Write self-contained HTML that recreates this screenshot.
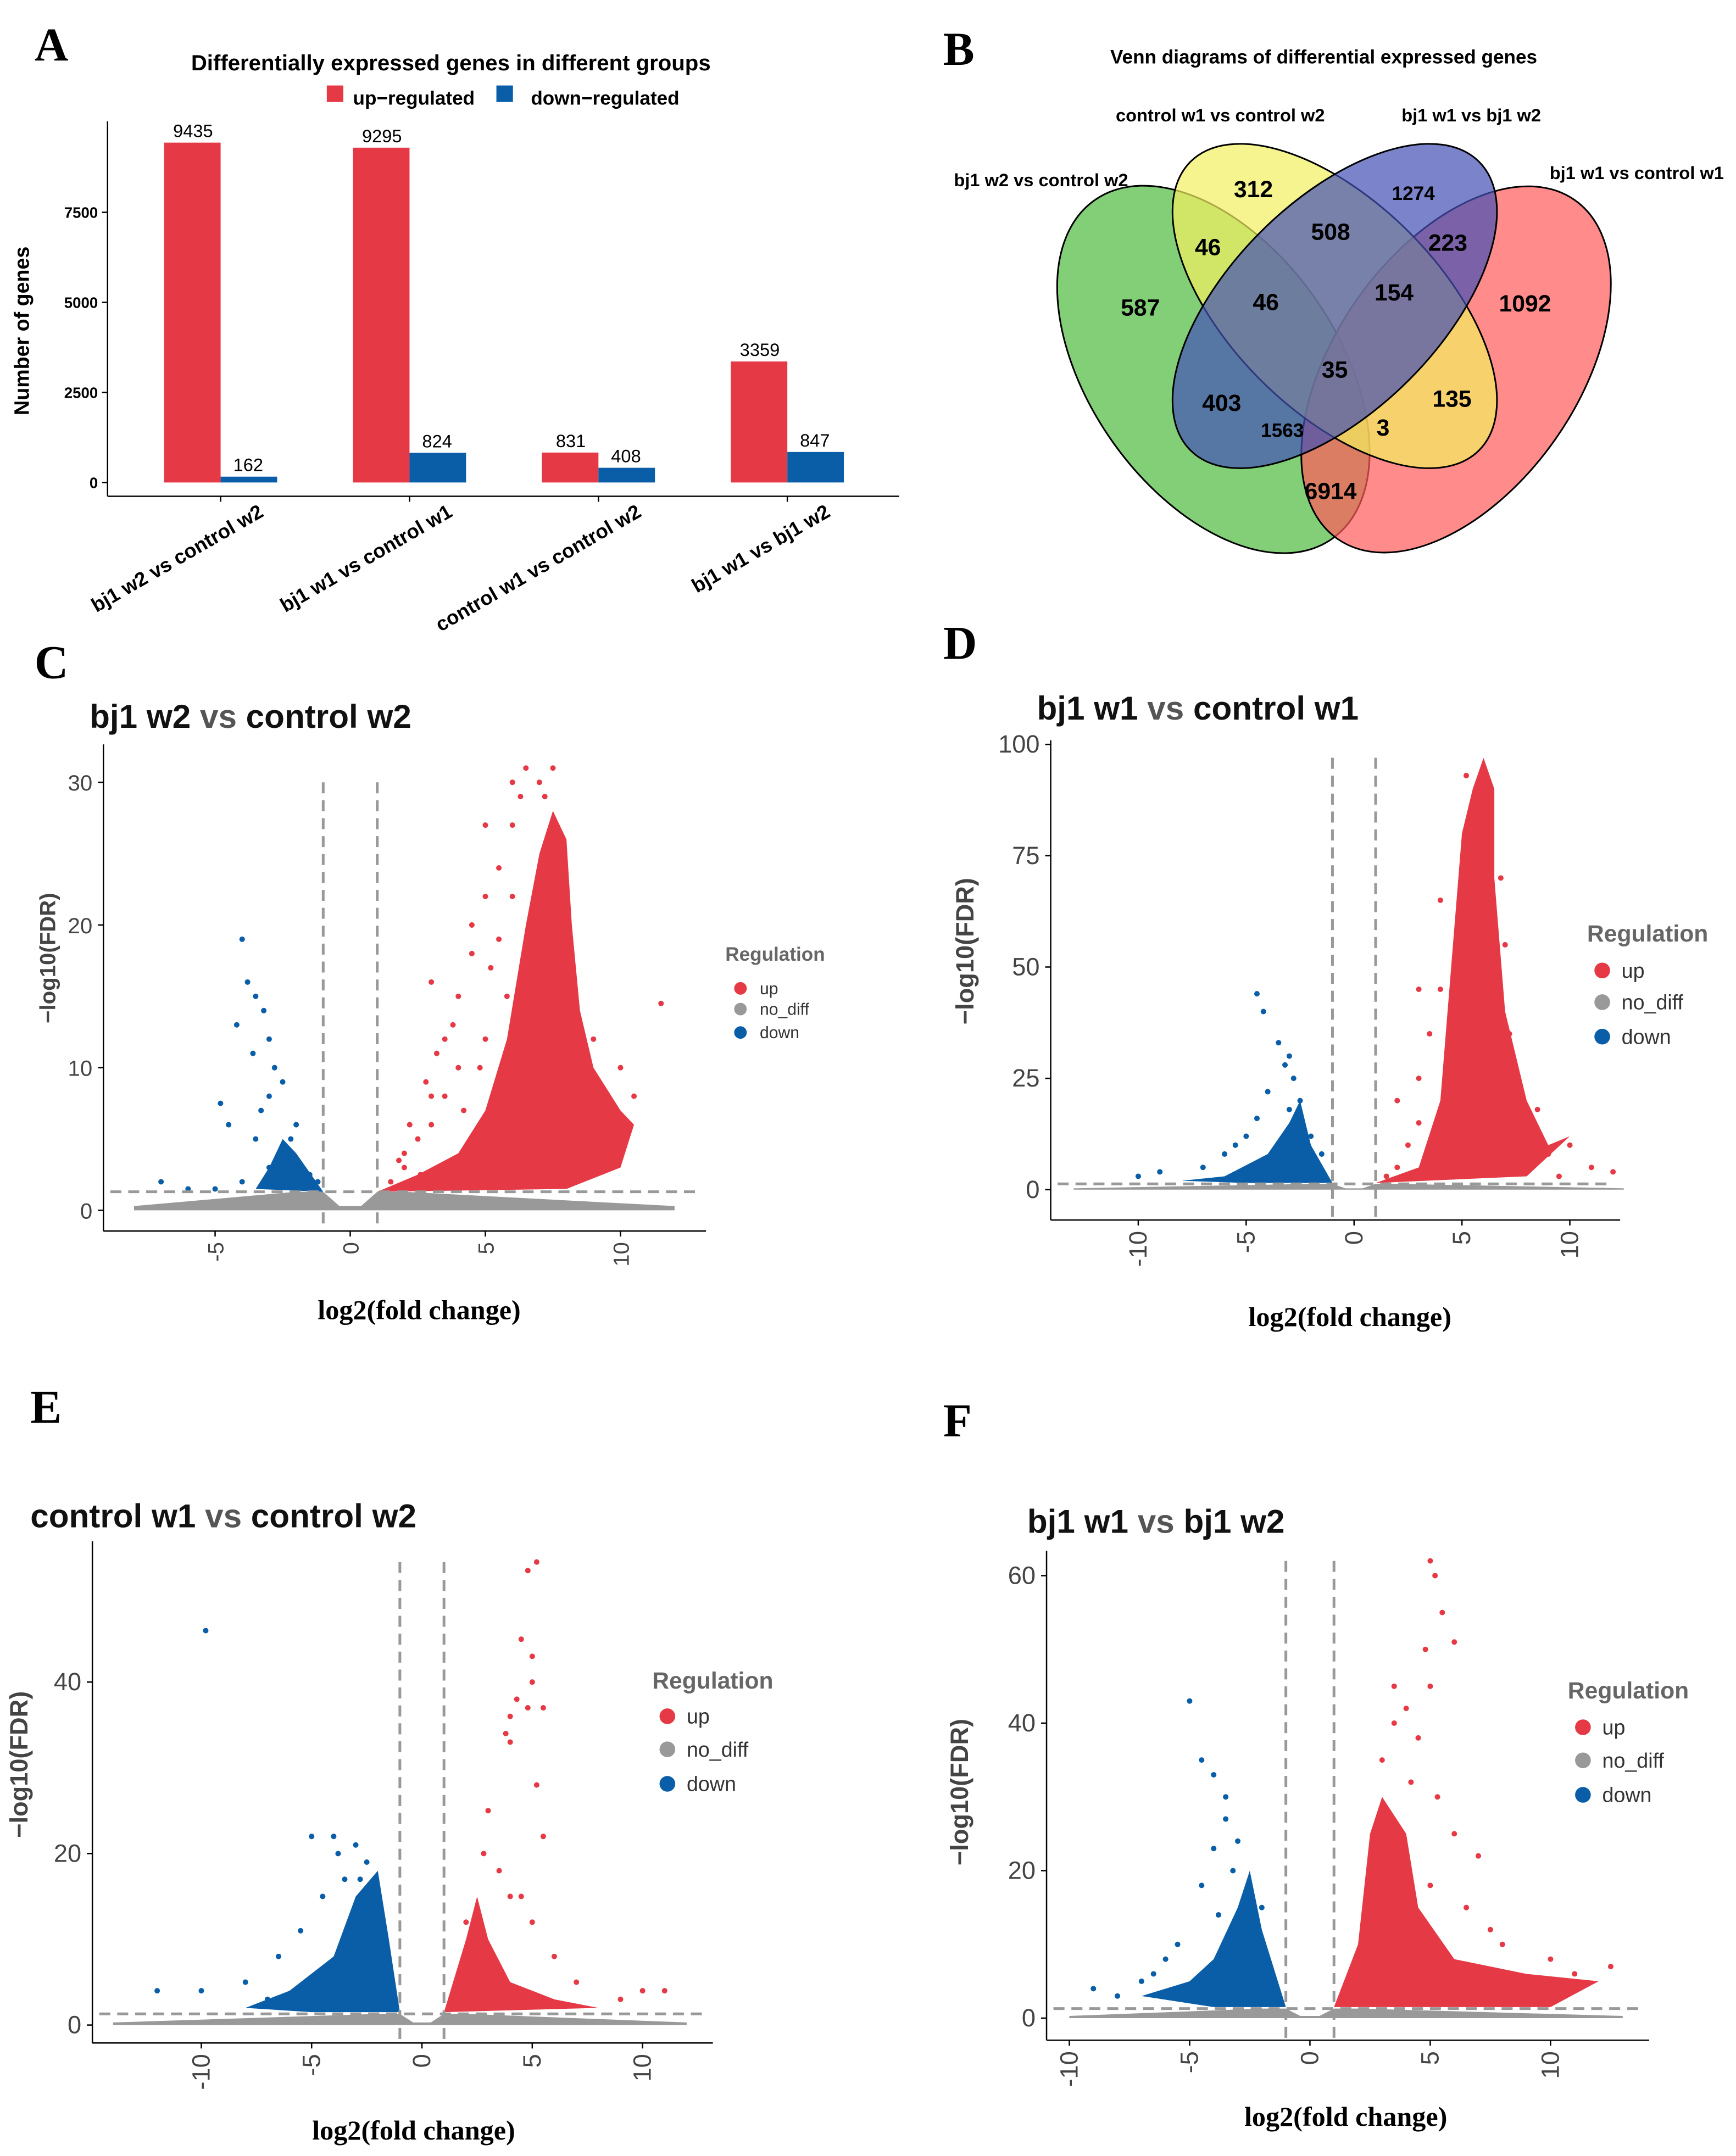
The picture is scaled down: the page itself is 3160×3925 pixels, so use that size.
<!DOCTYPE html>
<html><head><meta charset="utf-8"><style>
html,body{margin:0;padding:0;background:#fff}
svg{display:block}
text{font-family:"Liberation Sans",Arial,sans-serif}
.serif{font-family:"Liberation Serif","Times New Roman",serif;font-weight:bold}
</style></head><body>
<svg id="fig" xmlns="http://www.w3.org/2000/svg" width="3160" height="3925" viewBox="0 0 1259 1564" preserveAspectRatio="none">
<rect width="1259" height="1564" fill="#fff"/>
<text class="serif" x="25" y="44" font-size="34">A</text>
<text class="serif" x="684" y="47" font-size="34">B</text>
<text class="serif" x="25" y="492" font-size="34">C</text>
<text class="serif" x="684" y="478" font-size="34">D</text>
<text class="serif" x="22" y="1032" font-size="34">E</text>
<text class="serif" x="684" y="1042" font-size="34">F</text>
<g id="barA"></g>
<g id="venn"></g>
<g id="volC"></g>
<g id="volD"></g>
<g id="volE"></g>
<g id="volF"></g>
</svg>
<script>
const barCategories=["bj1 w2 vs control w2","bj1 w1 vs control w1","control w1 vs control w2","bj1 w1 vs bj1 w2"];
const upValues=[9435,9295,831,3359];
const downValues=[162,824,408,847];
const barTicks=[0,2500,5000,7500];

const vennLabels=["bj1 w2 vs control w2","control w1 vs control w2","bj1 w1 vs bj1 w2","bj1 w1 vs control w1"];
const vennCounts=["587","312","1274","1092","46","508","223","46","154","35","403","135","1563","3","6914"];

const cUpX=[2.5,3,3.5,4,4.5,5,5.5,6,6.5,6,7,7.5,5,4,3,2,3,4.5,5.5,6,8,9,10,11.5,9.5,10.5,2,1.5,5,3.5,6.3,7.2,8.4,8.8,9.6,10.2,2.2,2.8,3.2,3.8,4.2,4.8,5.2,5.8,1.8,2.6];
const cUpY=[5,8,12,15,18,22,24,30,31,27,30,31,12,10,6,3,16,20,19,22,20,12,10,14.5,6,8,4,2,27,8,29,29,8,5,3,5,6,9,11,13,7,10,17,15,3.5,2.5];
const cUpCloudX=[1,2.5,4,5,5.8,6.5,7,7.5,8,8.2,8.5,9,10,10.5,10,8,1];
const cUpCloudY=[1.3,2.5,4,7,12,20,25,28,26,20,14,10,7,6,3,1.5,1.3];
const cDownX=[-4,-3.8,-3.5,-3.2,-3,-2.8,-2.5,-3,-2,-4.8,-4.5,-3.5,-2.5,-1.8,-1.5,-2,-3,-4,-5,-6,-7,-4.2,-3.6,-3.3,-2.2,-1.4,-1.2];
const cDownY=[19,16,15,14,12,10,9,8,6,7.5,6,5,4,3,2.5,2,3,2,1.5,1.5,2,13,11,7,5,1.6,2];
const cDownCloudX=[-1,-2,-2.5,-3,-3.5,-1];
const cDownCloudY=[1.3,4,5,3,1.5,1.3];

const dUpX=[2,2.5,3,3,3.5,4,7.5,8,9,10,11,12,2,3,4,7,6,5.2,9.5,1.5,6.8,7.2,8.5];
const dUpY=[5,10,15,25,35,45,25,15,8,10,5,4,20,45,65,55,95,93,3,3,70,35,18];
const dUpCloudX=[1,3,4,4.5,5,5.5,6,6.5,6.5,7,8,9,10,8,1];
const dUpCloudY=[1.5,5,20,50,80,90,97,90,70,40,20,10,12,3,1.5];
const dDownX=[-4.5,-4.2,-3.5,-3,-3.2,-2.8,-2.5,-4,-4.5,-5,-6,-5.5,-7,-9,-10,-3,-2,-1.5];
const dDownY=[44,40,33,30,28,25,20,22,16,12,8,10,5,4,3,18,12,8];
const dDownCloudX=[-1,-2,-2.5,-3,-4,-6,-8,-5,-1];
const dDownCloudY=[1.5,10,20,15,8,3,2,1.5,1.5];

const eUpX=[5.2,4.8,4.5,5,5,4.3,4.8,4,3.8,4,5.5,5.2,5.5,3,2.8,3.5,4,4.5,5,6,7,9,10,11,2,3];
const eUpY=[54,53,45,43,40,38,37,36,34,33,37,28,22,25,20,18,15,15,12,8,5,3,4,4,12,8];
const eUpCloudX=[1,2,2.5,3,4,6,8,1];
const eUpCloudY=[1.5,10,15,10,5,3,2,1.5];
const eDownX=[-9.8,-5,-4,-3,-2.5,-3.5,-4.5,-3,-2,-5.5,-6.5,-8,-10,-12,-7,-3.8,-2.8];
const eDownY=[46,22,22,21,19,17,15,13,12,11,8,5,4,4,3,20,17];
const eDownCloudX=[-1,-1.5,-2,-3,-4,-6,-8,-5,-1];
const eDownCloudY=[1.5,10,18,15,8,4,2,1.5,1.5];

const fUpX=[5,5.2,5.5,6,4.8,5,4,3.5,3,4.5,5.3,6,7,4,5,8,10,11,12.5,3.5,4.2,6.5,7.5];
const fUpY=[62,60,55,51,50,45,42,40,35,38,30,25,22,20,18,10,8,6,7,45,32,15,12];
const fUpCloudX=[1,2,2.5,3,4,4.5,6,9,12,10,1];
const fUpCloudY=[1.5,10,25,30,25,15,8,6,5,1.5,1.5];
const fDownX=[-5,-4.5,-4,-3.5,-3.5,-3,-4,-3.2,-2.5,-4.5,-5.5,-6,-7,-8,-9,-6.5,-2,-3.8];
const fDownY=[43,35,33,30,27,24,23,20,18,18,10,8,5,3,4,6,15,14];
const fDownCloudX=[-1,-2,-2.5,-3,-4,-5,-7,-4,-1];
const fDownCloudY=[1.5,12,20,15,8,5,3,1.5,1.5];

const NS="http://www.w3.org/2000/svg";
function mk(parent,tag,attrs,txt){const e=document.createElementNS(NS,tag);for(const k in attrs)e.setAttribute(k,attrs[k]);if(txt!==undefined)e.textContent=txt;parent.appendChild(e);return e;}
const RED="#e63946",BLUE="#0a5ea8",GRAY="#999";

// ---- Panel A ----
(function(){
const g=document.getElementById('barA');
const y=v=>350-v*0.02613;
const gx=i=>160+i*137;
mk(g,'text',{x:327,y:51,'font-size':16,'font-weight':'bold','text-anchor':'middle'},"Differentially expressed genes in different groups");
let e=mk(g,'rect',{x:237,y:62,width:12,height:12,fill:RED});

mk(g,'text',{x:256,y:76,'font-size':14,'font-weight':'bold'},"up−regulated");
e=mk(g,'rect',{x:360,y:62,width:12,height:12,fill:BLUE});

mk(g,'text',{x:385,y:76,'font-size':14,'font-weight':'bold'},"down−regulated");
mk(g,'line',{x1:78,y1:88,x2:78,y2:360,stroke:'#000','stroke-width':1});
mk(g,'line',{x1:78,y1:360,x2:652,y2:360,stroke:'#000','stroke-width':1});
barTicks.forEach(t=>{mk(g,'line',{x1:74,y1:y(t),x2:78,y2:y(t),stroke:'#000'});
 mk(g,'text',{x:71,y:y(t)+4,'font-size':11,'font-weight':'bold','text-anchor':'end'},t);});
mk(g,'text',{x:21,y:240,'font-size':15,'font-weight':'bold','text-anchor':'middle',transform:'rotate(-90 21 240)'},"Number of genes");
barCategories.forEach((c,i)=>{
 const cx=gx(i);
 let r=mk(g,'rect',{x:cx-41,y:y(upValues[i]),width:41,height:350-y(upValues[i]),fill:RED});
 
 let b=mk(g,'rect',{x:cx,y:y(downValues[i]),width:41,height:350-y(downValues[i]),fill:BLUE});
 
 mk(g,'text',{x:cx-20,y:y(upValues[i])-4,'font-size':13,'text-anchor':'middle'},upValues[i]);
 mk(g,'text',{x:cx+20,y:y(downValues[i])-4,'font-size':13,'text-anchor':'middle'},downValues[i]);
 mk(g,'line',{x1:cx,y1:360,x2:cx,y2:364,stroke:'#000'});
 mk(g,'text',{x:cx+32,y:374,'font-size':14.5,'font-weight':'bold','text-anchor':'end',transform:`rotate(-30 ${cx+32} 374)`},c);
});
})();

// ---- Panel B ----
(function(){
const g=document.getElementById('venn');
mk(g,'text',{x:960,y:46,'font-size':14,'font-weight':'bold','text-anchor':'middle'},"Venn diagrams of differential expressed genes");
const ells=[[880,268,90,150,-35,'#4dbb3f','venn-green'],[1056,268,88,150,35,'#ff5a5a','venn-red'],[968,222,76,148,-45,'#f2f060','venn-yellow'],[968,222,76,148,45,'#4350b5','venn-blue']];
ells.forEach(a=>{let e=mk(g,'ellipse',{cx:a[0],cy:a[1],rx:a[2],ry:a[3],transform:`rotate(${a[4]} ${a[0]} ${a[1]})`,fill:a[5],'fill-opacity':0.7,stroke:'#000','stroke-width':1.2});
 });
const lp=[[755,135],[885,88],[1067,88],[1187,130]];
vennLabels.forEach((l,i)=>mk(g,'text',{x:lp[i][0],y:lp[i][1],'font-size':13,'font-weight':'bold','text-anchor':'middle'},l));
const np=[[827,223],[909,137],[1025,139],[1106,220],[876,179],[965,168],[1050,176],[918,219],[1011,212],[968,268],[886,292],[1053,289],[930,311],[1003,310],[965,356]];
vennCounts.forEach((n,i)=>mk(g,'text',{x:np[i][0],y:np[i][1]+6,'font-size':(n==='1274'||n==='1563')?14:17,'font-weight':'bold','text-anchor':'middle'},n));
})();

// ---- Volcano ----
function volcano(id,c){
 const g=document.getElementById(id);
 const X=v=>c.x0+v*c.xs, Y=v=>c.y0-v*c.ys;
 const tt=mk(g,'text',{x:c.tx,y:c.ty,'font-size':24,'font-weight':'bold',fill:'#111','xml:space':'preserve'});
 c.title.forEach((s,i)=>{const ts=mk(tt,'tspan',{fill:i===1?'#555':'#111'},s);});
 const band=[[c.xmin,0],[c.xmax,0],[c.xmax,0.3],[2,1.3],[1,1.3],[0.4,0.3],[-0.4,0.3],[-1,1.3],[-2,1.3],[c.xmin,0.3]];
 let b=mk(g,'polygon',{points:band.map(p=>X(p[0])+','+Y(p[1])).join(' '),fill:GRAY});
 
 const poly=(xs,ys,col,nm)=>{let p=mk(g,'polygon',{points:xs.map((v,i)=>X(v)+','+Y(ys[i])).join(' '),fill:col});
  };
 poly(c.ucx,c.ucy,RED,'up-cloud');poly(c.dcx,c.dcy,BLUE,'down-cloud');
 c.ux.forEach((v,i)=>{let p=mk(g,'circle',{cx:X(v),cy:Y(c.uy[i]),r:2,fill:RED});
  });
 c.dx.forEach((v,i)=>{let p=mk(g,'circle',{cx:X(v),cy:Y(c.dy[i]),r:2,fill:BLUE});
  });
 const ytop=Y(c.ymaxLine);
 [-1,1].forEach(v=>mk(g,'line',{x1:X(v),y1:ytop,x2:X(v),y2:c.axY,stroke:'#999','stroke-width':2,'stroke-dasharray':'8,5'}));
 mk(g,'line',{x1:c.axX+5,y1:Y(1.3),x2:c.axR-5,y2:Y(1.3),stroke:'#999','stroke-width':2,'stroke-dasharray':'8,5'});
 mk(g,'line',{x1:c.axX,y1:c.axT,x2:c.axX,y2:c.axY,stroke:'#000'});
 mk(g,'line',{x1:c.axX,y1:c.axY,x2:c.axR,y2:c.axY,stroke:'#000'});
 c.yt.forEach(t=>{mk(g,'line',{x1:c.axX-4,y1:Y(t),x2:c.axX,y2:Y(t),stroke:'#000'});
  mk(g,'text',{x:c.axX-8,y:Y(t)+6,'font-size':c.fs,fill:'#444','text-anchor':'end'},t);});
 c.xt.forEach(t=>{const xx=X(t);mk(g,'line',{x1:xx,y1:c.axY,x2:xx,y2:c.axY+4,stroke:'#000'});
  mk(g,'text',{x:xx+6,y:c.axY+8,'font-size':c.fs,fill:'#444','text-anchor':'end',transform:`rotate(-90 ${xx+6} ${c.axY+8})`},t);});
 mk(g,'text',{x:c.ylx,y:c.yly,'font-size':c.fs,'font-weight':'bold',fill:'#444','text-anchor':'middle',transform:`rotate(-90 ${c.ylx} ${c.yly})`},"−log10(FDR)");
 mk(g,'text',{class:'serif',x:c.xlx,y:c.xly,'font-size':20,'text-anchor':'middle'},"log2(fold change)");
 mk(g,'text',{x:c.lx,y:c.ly,'font-size':c.lfs+2,'font-weight':'bold',fill:'#666'},"Regulation");
 [["up",RED],["no_diff",GRAY],["down",BLUE]].forEach((it,i)=>{
  let d=mk(g,'circle',{cx:c.lx+11,cy:c.li[i],r:c.lfs*0.38,fill:it[1]});
  
  mk(g,'text',{x:c.lx+25,y:c.li[i]+c.lfs*0.35,'font-size':c.lfs,fill:'#333'},it[0]);});
}
volcano('volC',{x0:254,xs:19.6,y0:878,ys:10.35,xmin:-8,xmax:12,ymaxLine:30,axX:75,axT:540,axY:893,axR:512,
 title:["bj1 w2  ","vs","  control w2"],tx:65,ty:528,yt:[0,10,20,30],xt:[-5,0,5,10],fs:16,ylx:40,yly:695,xlx:304,xly:957,
 lx:526,ly:697,li:[717,732,749],lfs:12,ux:cUpX,uy:cUpY,ucx:cUpCloudX,ucy:cUpCloudY,dx:cDownX,dy:cDownY,dcx:cDownCloudX,dcy:cDownCloudY});
volcano('volD',{x0:982,xs:15.65,y0:863,ys:3.23,xmin:-13,xmax:12.5,ymaxLine:97,axX:762,axT:537,axY:885,axR:1175,
 title:["bj1 w1  ","vs"," control w1"],tx:752,ty:522,yt:[0,25,50,75,100],xt:[-10,-5,0,5,10],fs:18,ylx:706,yly:690,xlx:979,xly:962,
 lx:1151,ly:683,li:[704,727,752],lfs:15,ux:dUpX,uy:dUpY,ucx:dUpCloudX,ucy:dUpCloudY,dx:dDownX,dy:dDownY,dcx:dDownCloudX,dcy:dDownCloudY});
volcano('volE',{x0:306,xs:16,y0:1469,ys:6.22,xmin:-14,xmax:12,ymaxLine:54,axX:67,axT:1118,axY:1482,axR:517,
 title:["control w1 ","vs","  control w2"],tx:22,ty:1108,yt:[0,20,40],xt:[-10,-5,0,5,10],fs:18,ylx:20,yly:1280,xlx:300,xly:1552,
 lx:473,ly:1225,li:[1245,1269,1294],lfs:15,ux:eUpX,uy:eUpY,ucx:eUpCloudX,ucy:eUpCloudY,dx:eDownX,dy:eDownY,dcx:eDownCloudX,dcy:eDownCloudY});
volcano('volF',{x0:950,xs:17.45,y0:1464,ys:5.35,xmin:-10,xmax:13,ymaxLine:62,axX:759,axT:1125,axY:1480,axR:1196,
 title:["bj1 w1    ","vs","    bj1 w2"],tx:745,ty:1112,yt:[0,20,40,60],xt:[-10,-5,0,5,10],fs:18,ylx:702,yly:1300,xlx:976,xly:1542,
 lx:1137,ly:1232,li:[1253,1277,1302],lfs:15,ux:fUpX,uy:fUpY,ucx:fUpCloudX,ucy:fUpCloudY,dx:fDownX,dy:fDownY,dcx:fDownCloudX,dcy:fDownCloudY});
</script>
</body></html>
